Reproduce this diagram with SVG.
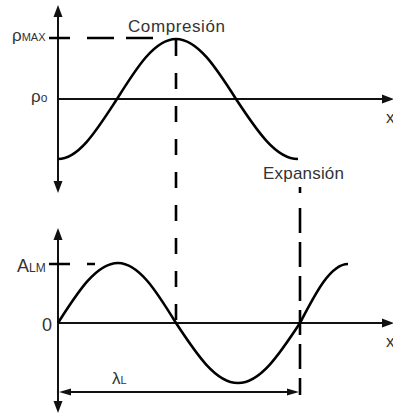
<svg xmlns="http://www.w3.org/2000/svg" width="393" height="416" viewBox="0 0 393 416">
<style>
.ax{stroke:#111;stroke-width:2;fill:none}
.ah{fill:#111;stroke:none}
.cv{stroke:#000;stroke-width:2.6;fill:none}
.ds{stroke:#000;stroke-width:2.6;fill:none}
.lb{font-family:"Liberation Sans",Arial,sans-serif;fill:#333}
</style>
<rect width="393" height="416" fill="#fff"/>
<g id="connectors">
<g id="top-axes">
<line class="ax" x1="58" y1="14" x2="58" y2="184"/>
<polygon class="ah" points="58,5 53.5,17 62.5,17"/>
<polygon class="ah" points="58,193 53.5,181 62.5,181"/>
<line class="ax" x1="58" y1="99" x2="385" y2="99"/>
<polygon class="ah" points="394,99 382,94.5 382,103.5"/>
</g>
<g id="bottom-axes">
<line class="ax" x1="58" y1="237" x2="58" y2="404"/>
<polygon class="ah" points="58,228 53.5,240 62.5,240"/>
<polygon class="ah" points="58,413 53.5,401 62.5,401"/>
<line class="ax" x1="58" y1="323" x2="385" y2="323"/>
<polygon class="ah" points="394,323 382,318.5 382,327.5"/>
</g>
<g id="dashed">
<path class="ds" d="M49,38H70M87,38H114M126,38H153"/>
<path class="ds" d="M49,264H70M87,264H95"/>
<line class="ds" x1="176" y1="40" x2="176" y2="336" stroke-dasharray="16 17"/>
<line class="ds" x1="300" y1="187" x2="300" y2="395" stroke-dasharray="6 15 25 9 25 9 25 9 25 9 25 9 25 9"/>
</g>
<g id="lambda-arrow">
<line class="ax" x1="68" y1="392" x2="290" y2="392"/>
<polygon class="ah" points="59,392 71,388.5 71,395.5"/>
<polygon class="ah" points="299,392 287,388.5 287,395.5"/>
</g>
</g>
<g id="density-curve">
<path class="cv" d="M58,159 C79.4,159 97.8,128.3 117,99 C136.2,68.3 154.6,39 176,39 C197.7,39 216.4,68.3 236,99 C256.2,129.7 275.6,159 298,159"/>
</g>
<g id="displacement-curve">
<path class="cv" d="M58,323 C77.6,292.3 96.3,263 118,263 C139,263 157.1,292.3 176,323 C196.2,353.7 215.6,383 238,383 C260.4,383 279.8,353.7 300,323 C315.7,292.8 330.6,264 348,264"/>
</g>
<g id="labels">
<text class="lb" x="12" y="41" font-size="17">ρ<tspan font-size="11">MAX</tspan></text>
<text class="lb" x="31" y="102" font-size="17">ρ<tspan font-size="12">o</tspan></text>
<text class="lb" x="128" y="32" font-size="17" textLength="97">Compresión</text>
<text class="lb" x="263" y="179" font-size="17" textLength="81">Expansión</text>
<text class="lb" x="386" y="123" font-size="17">x</text>
<text class="lb" x="17" y="272" font-size="18">A<tspan font-size="12">LM</tspan></text>
<text class="lb" x="42" y="331" font-size="18">0</text>
<text class="lb" x="386" y="347" font-size="17">x</text>
<text class="lb" x="112" y="384" font-size="17">λ<tspan font-size="11">L</tspan></text>
</g>
</svg>
